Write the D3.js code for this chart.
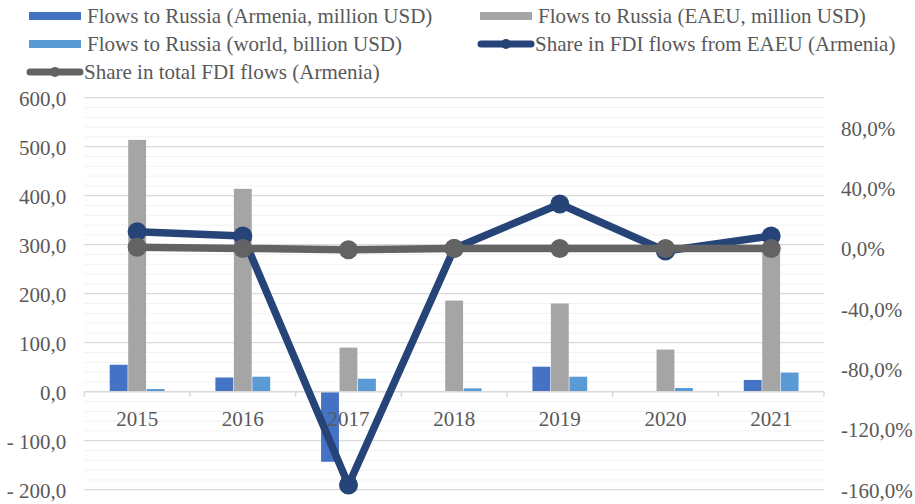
<!DOCTYPE html>
<html>
<head>
<meta charset="utf-8">
<script src="https://cdn.jsdelivr.net/npm/d3@7"></script>
<style>
  body { margin: 0; background: #fff; }
  svg { display: block; font-family: "Liberation Serif", "Times New Roman", serif; }
  text { fill: #595959; }
</style>
</head>
<body>
<svg width="915" height="504"></svg>
<script>
// chart values
var years = ["2015", "2016", "2017", "2018", "2019", "2020", "2021"];
var armeniaFlows = [55, 29, -143, 0, 51, 0, 24];       // million USD
var eaeuFlows = [514, 414, 90, 186, 180, 86, 300];      // million USD
var worldFlows = [5.5, 30.6, 26.5, 6.8, 30.6, 7.5, 39]; // billion USD
var shareEaeu = [11.1, 8.3, -156.9, 0, 29.5, -1.7, 8.3];  // %
var shareTotal = [0.8, 0, -0.9, 0, 0, 0, 0];              // %
var leftTicks = [-200, -100, 0, 100, 200, 300, 400, 500, 600];
var rightTicks = [-160, -120, -80, -40, 0, 40, 80];

var colors = {
  armenia: "#4472c4",
  eaeu: "#a5a5a5",
  world: "#5b9bd5",
  shareEaeu: "#264478",
  shareTotal: "#636363"
};

var svg = d3.select("svg");
var plot = { left: 84.3, right: 824, top: 97.7, bottom: 489.7 };

var x = d3.scaleBand().domain(years).range([plot.left, plot.right]).padding(0);
var yL = d3.scaleLinear().domain([-200, 600]).range([plot.bottom, plot.top]);
var yR = d3.scaleLinear().domain([-160, 100]).range([plot.bottom, plot.top]);

var seriesKeys = ["armenia", "eaeu", "world"];
var xSub = d3.scaleBand().domain(seriesKeys).range([-27.7, 27.7]).padding(0);

// gridlines: minor every 20, major every 100
var minor = d3.range(-200, 601, 20).filter(function (v) { return v % 100 !== 0; });
svg.append("g").selectAll("line").data(minor).join("line")
  .attr("x1", plot.left).attr("x2", plot.right)
  .attr("y1", function (d) { return yL(d); }).attr("y2", function (d) { return yL(d); })
  .attr("stroke", "#f2f2f2").attr("stroke-width", 1);
svg.append("g").selectAll("line").data(leftTicks.filter(function (v) { return v !== 0; })).join("line")
  .attr("x1", plot.left).attr("x2", plot.right)
  .attr("y1", function (d) { return yL(d); }).attr("y2", function (d) { return yL(d); })
  .attr("stroke", "#d9d9d9").attr("stroke-width", 1.3);

// bars
var rows = years.map(function (yr, i) {
  return { year: yr, armenia: armeniaFlows[i], eaeu: eaeuFlows[i], world: worldFlows[i] };
});
var groups = svg.append("g").selectAll("g").data(rows).join("g")
  .attr("transform", function (d) { return "translate(" + (x(d.year) + x.bandwidth() / 2) + ",0)"; });
groups.selectAll("rect")
  .data(function (d) { return seriesKeys.map(function (k) { return { key: k, value: d[k] }; }); })
  .join("rect")
  .attr("x", function (d) { return xSub(d.key) + 0.3; })
  .attr("width", xSub.bandwidth() - 0.6)
  .attr("y", function (d) { return yL(Math.max(0, d.value)); })
  .attr("height", function (d) { return Math.abs(yL(d.value) - yL(0)); })
  .attr("fill", function (d) { return colors[d.key]; });

// category axis at zero
svg.append("line")
  .attr("x1", plot.left).attr("x2", plot.right)
  .attr("y1", yL(0)).attr("y2", yL(0))
  .attr("stroke", "#d9d9d9").attr("stroke-width", 1.5);
var edges = years.map(function (d) { return x(d); }).concat([plot.right]);
svg.append("g").selectAll("line").data(edges).join("line")
  .attr("x1", function (d) { return d; }).attr("x2", function (d) { return d; })
  .attr("y1", yL(0)).attr("y2", yL(0) + 5)
  .attr("stroke", "#d9d9d9").attr("stroke-width", 1.5);

var xAxis = svg.append("g")
  .attr("transform", "translate(0," + yL(0) + ")")
  .call(d3.axisBottom(x).tickSize(0));
xAxis.select(".domain").remove();
xAxis.selectAll("text").attr("y", 27).attr("dy", "0.35em")
  .style("font-size", "21px").style("font-family", "Liberation Serif");

// left axis
function fmtLeft(v) {
  var s = d3.format(".1f")(Math.abs(v)).replace(".", ",");
  return v < 0 ? "- " + s : s;
}
var leftAxis = svg.append("g")
  .attr("transform", "translate(" + plot.left + ",0)")
  .call(d3.axisLeft(yL).tickValues(leftTicks).tickSize(0).tickPadding(18).tickFormat(fmtLeft));
leftAxis.select(".domain").remove();
leftAxis.selectAll("text").attr("dy", "0.35em")
  .style("font-size", "21px").style("font-family", "Liberation Serif");

// right axis
function fmtRight(v) {
  return d3.format(".1f")(v).replace(".", ",").replace("−", "-") + "%";
}
var rightAxis = svg.append("g")
  .attr("transform", "translate(" + plot.right + ",0)")
  .call(d3.axisRight(yR).tickValues(rightTicks).tickSize(0).tickPadding(17).tickFormat(fmtRight));
rightAxis.select(".domain").remove();
rightAxis.selectAll("text").attr("dy", "0.35em")
  .style("font-size", "21px").style("font-family", "Liberation Serif");

// lines on secondary axis
function drawLine(values, color) {
  var pts = years.map(function (yr, i) { return [x(yr) + x.bandwidth() / 2, yR(values[i])]; });
  svg.append("path")
    .attr("d", d3.line()(pts))
    .attr("fill", "none").attr("stroke", color)
    .attr("stroke-width", 7.5).attr("stroke-linejoin", "round");
  svg.append("g").selectAll("circle").data(pts).join("circle")
    .attr("cx", function (d) { return d[0]; }).attr("cy", function (d) { return d[1]; })
    .attr("r", 9.5).attr("fill", color);
}
drawLine(shareEaeu, colors.shareEaeu);
drawLine(shareTotal, colors.shareTotal);

// legend
var legendItems = [
  { label: "Flows to Russia (Armenia, million USD)", color: colors.armenia, type: "bar", x: 29, y: 16 },
  { label: "Flows to Russia (EAEU, million USD)", color: colors.eaeu, type: "bar", x: 480, y: 16 },
  { label: "Flows to Russia (world, billion USD)", color: colors.world, type: "bar", x: 29, y: 44 },
  { label: "Share in FDI flows from EAEU (Armenia)", color: colors.shareEaeu, type: "line", x: 478, y: 44 },
  { label: "Share in total FDI flows (Armenia)", color: colors.shareTotal, type: "line", x: 27, y: 72 }
];
var leg = svg.append("g").selectAll("g").data(legendItems).join("g")
  .attr("transform", function (d) { return "translate(" + d.x + "," + d.y + ")"; });
leg.filter(function (d) { return d.type === "bar"; }).append("rect")
  .attr("x", 0).attr("y", -4).attr("width", 52).attr("height", 8)
  .attr("fill", function (d) { return d.color; });
leg.filter(function (d) { return d.type === "line"; }).append("line")
  .attr("x1", 3).attr("x2", 53).attr("y1", 0).attr("y2", 0)
  .attr("stroke", function (d) { return d.color; })
  .attr("stroke-width", 7).attr("stroke-linecap", "round");
leg.filter(function (d) { return d.type === "line"; }).append("circle")
  .attr("cx", 28).attr("cy", 0).attr("r", 5)
  .attr("fill", function (d) { return d.color; });
leg.append("text")
  .attr("x", function (d) { return d.type === "bar" ? 58 : 57; })
  .attr("dy", "0.35em")
  .style("font-size", "21px")
  .text(function (d) { return d.label; });
</script>
</body>
</html>
